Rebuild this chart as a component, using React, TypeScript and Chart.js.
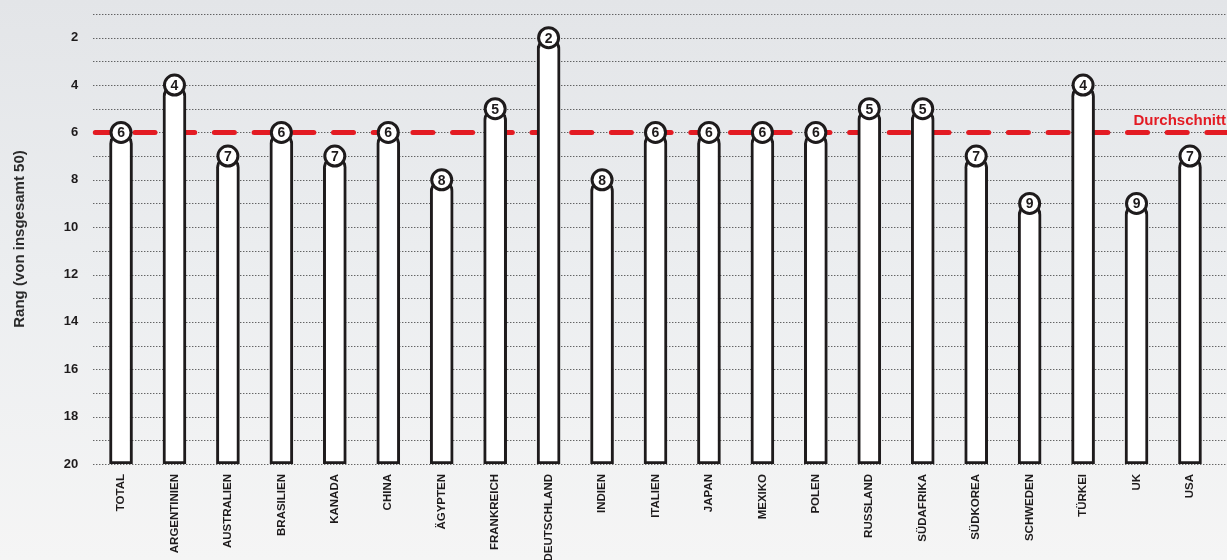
import React, { useEffect, useRef } from 'react';
import { Chart, registerables } from 'chart.js';

Chart.register(...registerables);

const categories = [
  'TOTAL', 'ARGENTINIEN', 'AUSTRALIEN', 'BRASILIEN', 'KANADA', 'CHINA', 'ÄGYPTEN',
  'FRANKREICH', 'DEUTSCHLAND', 'INDIEN', 'ITALIEN', 'JAPAN', 'MEXIKO', 'POLEN',
  'RUSSLAND', 'SÜDAFRIKA', 'SÜDKOREA', 'SCHWEDEN', 'TÜRKEI', 'UK', 'USA',
];
const ranks = [6, 4, 7, 6, 7, 6, 8, 5, 2, 8, 6, 6, 6, 6, 5, 5, 7, 9, 4, 9, 7];
const average = 6;
const averageLabel = 'Durchschnitt';
const yMin = 1;
const yMax = 20;
const yTitle = 'Rang (von insgesamt 50)';

const SANS = "'Liberation Sans', Arial, sans-serif";
const DARK = '#1e1b1c';
const RED = '#e31b23';

const overlayPlugin = {
  id: 'overlay',
  beforeDatasetsDraw(chart: any) {
    const { ctx, chartArea, scales } = chart;
    const y = scales.y;
    ctx.save();
    // dotted grid lines
    ctx.strokeStyle = '#2a2a2a';
    ctx.lineWidth = 1;
    ctx.setLineDash([1, 2]);
    for (let v = yMin; v <= yMax; v++) {
      const py = Math.round(y.getPixelForValue(v)) + 0.5;
      ctx.beginPath();
      ctx.moveTo(chartArea.left - 1, py);
      ctx.lineTo(chart.width, py);
      ctx.stroke();
    }
    // average dashed line
    const ay = y.getPixelForValue(average);
    ctx.setLineDash([20, 19.7]);
    ctx.lineCap = 'round';
    ctx.lineWidth = 5;
    ctx.strokeStyle = RED;
    ctx.beginPath();
    ctx.moveTo(chartArea.left + 1, ay);
    ctx.lineTo(chart.width + 20, ay);
    ctx.stroke();
    ctx.setLineDash([]);
    ctx.fillStyle = RED;
    ctx.font = `bold 15px ${SANS}`;
    ctx.textAlign = 'right';
    ctx.textBaseline = 'alphabetic';
    ctx.fillText(averageLabel, chart.width - 1, ay - 7);
    ctx.restore();
  },
  afterDatasetsDraw(chart: any) {
    const { ctx, scales } = chart;
    const y = scales.y;
    const meta = chart.getDatasetMeta(0);
    ctx.save();
    meta.data.forEach((el: any, i: number) => {
      const cx = el.x;
      const cy = y.getPixelForValue(ranks[i]);
      ctx.beginPath();
      ctx.arc(cx, cy, 10, 0, Math.PI * 2);
      ctx.fillStyle = '#ffffff';
      ctx.fill();
      ctx.lineWidth = 3;
      ctx.strokeStyle = DARK;
      ctx.stroke();
      ctx.fillStyle = DARK;
      ctx.font = `bold 14px ${SANS}`;
      ctx.textAlign = 'center';
      ctx.textBaseline = 'middle';
      ctx.fillText(String(ranks[i]), cx, cy + 1);
    });
    ctx.restore();
  },
};

export default function App() {
  const canvasRef = useRef<HTMLCanvasElement | null>(null);

  useEffect(() => {
    document.body.style.margin = '0';
    const canvas = canvasRef.current;
    if (!canvas) return;
    const chart = new Chart(canvas, {
      type: 'bar',
      data: {
        labels: categories,
        datasets: [
          {
            data: ranks.map((r) => [yMax, r]) as any,
            backgroundColor: '#ffffff',
            borderColor: DARK,
            borderWidth: 3,
            borderSkipped: false,
            borderRadius: { topLeft: 11.5, topRight: 11.5, bottomLeft: 0, bottomRight: 0 },
            barThickness: 23,
          },
        ],
      },
      options: {
        animation: false,
        responsive: false,
        maintainAspectRatio: false,
        layout: { padding: { top: 14, right: 10.3, left: 0, bottom: 0 } },
        plugins: {
          legend: { display: false },
          tooltip: { enabled: false },
        },
        scales: {
          x: {
            grid: { display: false, drawTicks: false },
            border: { display: false },
            ticks: {
              autoSkip: false,
              minRotation: 90,
              maxRotation: 90,
              padding: 10,
              color: DARK,
              font: { family: SANS, size: 11.5, weight: 'bold' },
            },
            afterFit(scale: any) {
              scale.height = 96;
              scale.paddingLeft = 0;
              scale.paddingRight = 0;
            },
          },
          y: {
            reverse: true,
            min: yMin,
            max: yMax,
            grid: { display: false, drawTicks: false },
            border: { display: false },
            ticks: {
              stepSize: 1,
              autoSkip: false,
              padding: 16,
              color: DARK,
              font: { family: SANS, size: 13, weight: 'bold' },
              callback: (v: any) => (Number(v) % 2 === 0 ? String(v) : ''),
            },
            title: {
              display: true,
              text: yTitle,
              color: '#2b2b2b',
              font: { family: SANS, size: 15, weight: 'bold' },
              padding: { top: 11, bottom: 0 },
            },
            afterFit(scale: any) {
              scale.width = 94.3;
              scale.paddingTop = 0;
              scale.paddingBottom = 0;
            },
          },
        },
      },
      plugins: [overlayPlugin],
    });
    return () => chart.destroy();
  }, []);

  return (
    <div
      style={{
        width: 1227,
        height: 560,
        background: 'linear-gradient(to bottom, #e3e5e8 0%, #eceef0 50%, #f5f5f5 100%)',
      }}
    >
      <canvas ref={canvasRef} width={1227} height={560} style={{ display: 'block' }} />
    </div>
  );
}
